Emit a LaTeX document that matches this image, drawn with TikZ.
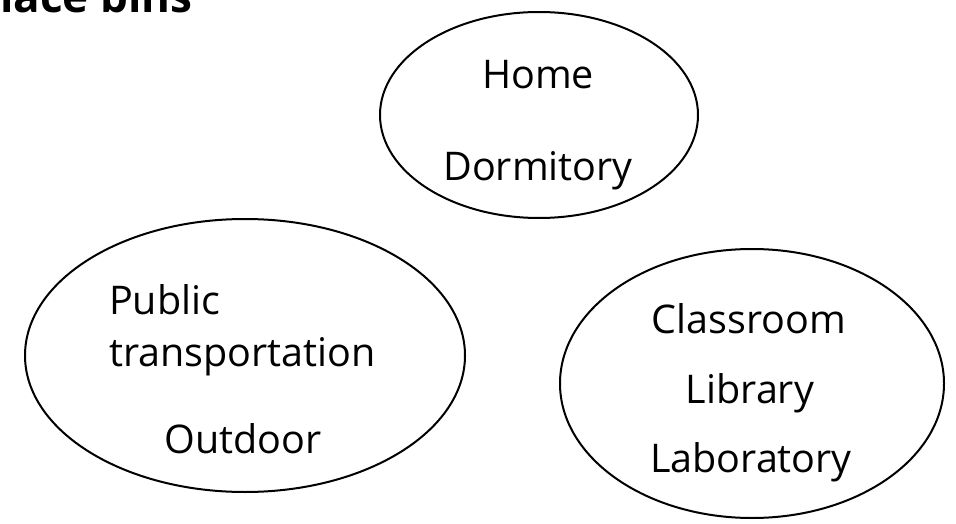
\documentclass[tikz,border=0pt]{standalone}
\usepackage{fontspec}
\setmainfont{Open Sans}
\usetikzlibrary{shapes.geometric}
\begin{document}
\begin{tikzpicture}[x=1pt,y=-1pt,
  oval/.style={draw=black,line width=2pt,ellipse,inner sep=0pt},
  lbl/.style={inner sep=0pt,font=\fontsize{39.5}{46}\selectfont},
  ttl/.style={inner sep=0pt,font=\bfseries\fontsize{44}{50}\selectfont}]
\useasboundingbox (0,0) rectangle (956,524);
\node[oval,minimum width=318pt,minimum height=206pt] (home) at (539,115) {};
\node[oval,minimum width=440pt,minimum height=273pt] (pub) at (245,355.5) {};
\node[oval,minimum width=384pt,minimum height=269pt] (cls) at (752,383.5) {};
\node[ttl,anchor=base west] (title) at (0,13) {lace bins};
\node[lbl,anchor=base] (t1) at (538,89) {Home};
\node[lbl,anchor=base] (t2) at (538,180) {Dormitory};
\node[lbl,anchor=base west] (t3) at (109,314) {Public};
\node[lbl,anchor=base west] (t4) at (109,366) {transportation};
\node[lbl,anchor=base] (t5) at (243,453) {Outdoor};
\node[lbl,anchor=base] (t6) at (749,333) {Classroom};
\node[lbl,anchor=base] (t7) at (750,403) {Library};
\node[lbl,anchor=base] (t8) at (751,472) {Laboratory};
\end{tikzpicture}
\end{document}
